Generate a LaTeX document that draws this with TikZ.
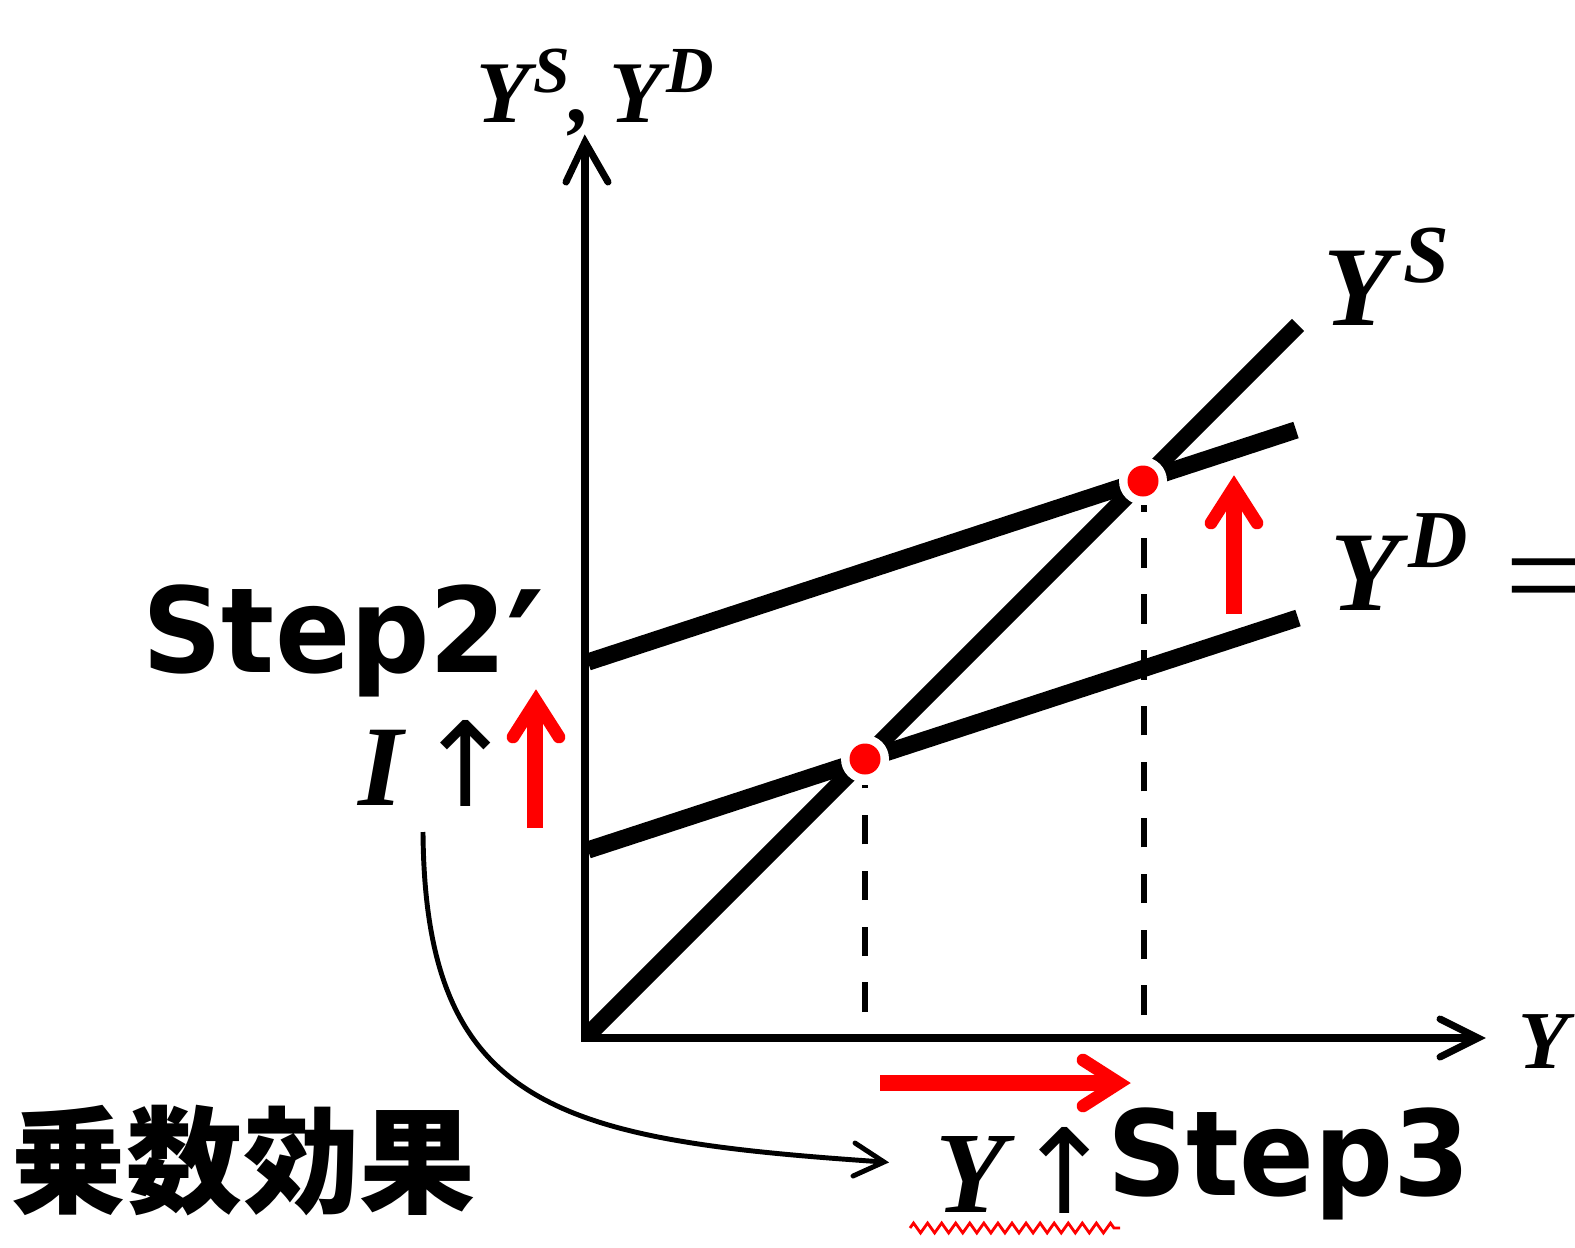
\documentclass[tikz,border=0pt]{standalone}
\usepackage{fontspec}
\setmainfont{Liberation Serif}
\newfontfamily\stepfont{DejaVu Sans}
\newfontfamily\cjkfont{Noto Sans CJK JP}
\usetikzlibrary{decorations.pathmorphing}
\tikzset{
  axisline/.style={line width=2pt, line join=miter},
  axhead/.style={line width=2pt, line cap=round, line join=miter},
  curveline/.style={line width=4.9pt},
  guide/.style={line width=1.8pt, dash pattern=on 8.4pt off 7.5pt},
  redshaft/.style={red, line width=4.7pt},
  redhead/.style={red, line width=3.6pt, line cap=round, line join=miter},
  lbl/.style={inner sep=0pt, outer sep=0pt},
  thinarrow/.style={line width=1.4pt},
  thinhead/.style={line width=1.4pt, line cap=round, line join=miter},
}
\begin{document}
\begin{tikzpicture}[x=0.01cm,y=-0.01cm]
\useasboundingbox (0,0) rectangle (1575,1248);
\clip (0,0) rectangle (1575,1248);
\fill[white] (0,0) rectangle (1575,1248);

% coordinates
\coordinate (O) at (585,1038);
\coordinate (ytip) at (585,142);
\coordinate (xtip) at (1478,1038);
\coordinate (S1) at (1298,325);
\coordinate (Dl0) at (588,850);
\coordinate (Dl1) at (1298,618);
\coordinate (Du0) at (588,662);
\coordinate (Du1) at (1296,430);
\coordinate (E1) at (865,759);
\coordinate (E2) at (1143,481);

% axes
\draw[axisline] (ytip) -- (O) -- (xtip);
\draw[axhead] (566,182) -- (ytip) -- (608,182);
\draw[axhead] (1440,1019) -- (xtip) -- (1440,1057);

% curves
\begin{scope}
  \clip (O) rectangle (1575,0);
  \draw[curveline] (O) -- (S1);
\end{scope}
\draw[curveline] (Dl0) -- (Dl1);
\draw[curveline] (Du0) -- (Du1);

% guides
\draw[guide] (865,1012) -- (865,785);
\draw[guide] (1144,1015) -- (1144,505);

% equilibrium points
\foreach \p in {E1,E2}{
  \fill[white] (\p) circle[radius=24];
  \fill[red] (\p) circle[radius=15.5];
}

% red arrows
\draw[redshaft] (535,828) -- (535,712);
\draw[redhead] (513,737) -- (536,701) -- (559,737);
\draw[redshaft] (1234,614) -- (1234,498);
\draw[redhead] (1211,523) -- (1234,487) -- (1257,523);
\draw[redshaft] (880,1083) -- (1108,1083);
\draw[redhead] (1083,1060) -- (1119,1083) -- (1083,1106);

% labels
\node[lbl, anchor=base west] (ylab) at (476,122) {\fontsize{25}{26}\selectfont\bfseries\itshape Y\hspace{0.04em}\raisebox{8.5pt}{\fontsize{18.7}{20}\selectfont S},\hspace{0.2em}Y\hspace{0.04em}\raisebox{8.5pt}{\fontsize{18.7}{20}\selectfont D}};
\node[lbl, anchor=base west] (yslab) at (1323,325) {\fontsize{32.3}{34}\selectfont\bfseries\itshape Y\hspace{0.1em}\raisebox{12pt}{\fontsize{23.4}{25}\selectfont S}};
\node[lbl, anchor=base west] (ydlab) at (1330,610) {\fontsize{32.3}{34}\selectfont\bfseries\itshape Y\hspace{0.08em}\raisebox{12pt}{\fontsize{23.4}{25}\selectfont D}};
\node[lbl, anchor=west] (eq) at (1505,590) {\fontsize{39}{40}\selectfont =};
\node[lbl, anchor=base west] (yax) at (1518,1068) {\fontsize{23.4}{25}\selectfont\bfseries\itshape Y};

\node[lbl, anchor=base west] (step2) at (142,672) {\scalebox{0.94}[1]{\fontsize{33.6}{36}\selectfont\stepfont\bfseries Step2\hspace{-0.01em}\raisebox{-8.7pt}{\fontsize{44}{44}\selectfont ′}}};
\node[lbl, anchor=base west] (step3) at (1107,1195) {\scalebox{0.935}[1]{\fontsize{33.6}{36}\selectfont\stepfont\bfseries Step3}};

\node[lbl, anchor=base west] (ilab) at (358,805) {\fontsize{32.7}{34}\selectfont\bfseries\itshape I};
\node[lbl, anchor=south] (iup) at (466,806) {\resizebox*{!}{0.86cm}{\stepfont ↑}};
\node[lbl, anchor=base west] (ylow) at (935,1212) {\fontsize{33}{35}\selectfont\bfseries\itshape Y};
\node[lbl, anchor=south] (yup) at (1065,1213) {\resizebox*{!}{0.86cm}{\stepfont ↑}};

\node[lbl, anchor=center] (mult) at (243,1161) {\fontsize{33}{36}\selectfont\cjkfont\bfseries 乗数効果};

% multiplier curve
\coordinate (cstart) at (423,832);
\coordinate (cend) at (884,1162);
\draw[thinarrow] (cstart) .. controls (425,1110) and (560,1140) .. (cend);
\draw[thinhead] (855,1143) -- (cend) -- (853,1176);

% squiggle
\draw[red, line width=0.8pt, decorate, decoration={zigzag, segment length=4pt, amplitude=1.4pt}] (910,1228) -- (1120,1228);
\end{tikzpicture}
\end{document}
